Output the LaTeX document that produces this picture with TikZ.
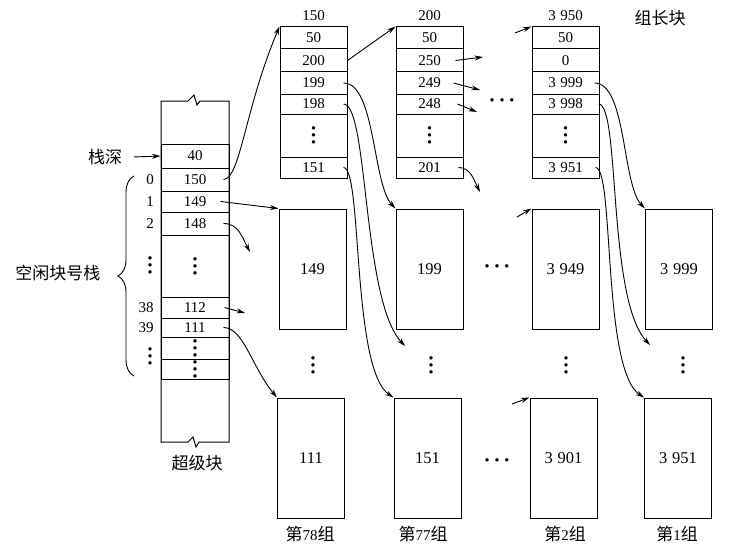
\documentclass[tikz,border=0pt]{standalone}
\usepackage{fontspec}
\setmainfont{Liberation Serif}
\newfontfamily\cjk{Noto Sans CJK SC}
\newfontfamily\dotfont{DejaVu Sans}
\usetikzlibrary{arrows.meta,decorations.pathreplacing}
\newcommand\zhtxt[1]{{\cjk\fontsize{17}{19}\selectfont #1}}
\newcommand\gsp{\hspace{0.3em}}
\newcommand\vdts{\vbox{\dotfont\fontsize{4.5}{7}\selectfont\baselineskip=7pt\lineskiplimit=-10pt\hbox{●}\hbox{●}\hbox{●}}}
\newcommand\hdts{{\dotfont\fontsize{4.5}{7}\selectfont ●\hspace{6pt}●\hspace{6pt}●}}
\tikzset{
  cell/.style={draw, line width=1pt, minimum width=67pt, inner sep=0pt},
  freeblk/.style={draw, line width=1pt, minimum width=67pt, minimum height=120pt, inner sep=0pt, font=\fontsize{16.5}{18}\selectfont},
  link/.style={line width=0.9pt, -{Stealth[length=8.5pt,width=5pt]}},
}
\begin{document}
\begin{tikzpicture}[x=1pt,y=-1pt,font=\fontsize{15}{17}\selectfont]
\useasboundingbox (0,0) rectangle (736,551);
% superblock
\draw[line width=1pt] (161,442) -- (161,101) -- (188,101) -- (194,95) -- (197,105) -- (200,101)
  -- (229,101) -- (229,442) -- (199,442) -- (196,447) -- (193,437) -- (188,442) -- cycle;
\node[cell, minimum width=68pt, minimum height=24pt] (d40) at (195,156) {40};
\node[cell, minimum width=68pt, minimum height=23pt] (s150) at (195,179.5) {150};
\node[cell, minimum width=68pt, minimum height=21pt] (s149) at (195,201.5) {149};
\node[cell, minimum width=68pt, minimum height=23pt] (s148) at (195,223.5) {148};
\node[cell, minimum width=68pt, minimum height=62pt] (sdots) at (195,266) {\vdts};
\node[cell, minimum width=68pt, minimum height=21pt] (s112) at (195,307.5) {112};
\node[cell, minimum width=68pt, minimum height=19pt] (s111) at (195,327.5) {111};
\node[cell, minimum width=68pt, minimum height=22pt] (se1) at (195,348) {\vdts};
\node[cell, minimum width=68pt, minimum height=20pt] (se2) at (195,369) {\vdts};
\node (cj) at (197,463) {\zhtxt{超级块}};
% stack depth and indices
\node (zs) at (105,157) {\zhtxt{栈深}};
\draw[link] ([xshift=8pt]zs.east) -- (d40.west);
\node (i0) at (150,179.5) {0};
\node (i1) at (150,201.5) {1};
\node (i2) at (150,223.5) {2};
\node (i3) at (150,265) {\vdts};
\node (i38) at (146,307.5) {38};
\node (i39) at (146,327.5) {39};
\node (i4) at (150,356) {\vdts};
\draw[line width=0.9pt, decorate, decoration={brace, amplitude=16pt}] (134,376) -- (134,176);
\node (kx) at (58,273) {\zhtxt{空闲块号栈}};
% group leader blocks
\node (ha) at (313.5,16) {150};
\node[cell, minimum height=22pt] (a50) at (313.5,38) {50};
\node[cell, minimum height=23pt] (a200) at (313.5,60.5) {200};
\node[cell, minimum height=22pt] (a199) at (313.5,83) {199};
\node[cell, minimum height=20pt] (a198) at (313.5,104) {198};
\node[cell, minimum height=43pt] (adots) at (313.5,135.5) {\vdts};
\node[cell, minimum height=21pt] (a151) at (313.5,167.5) {151};
\node (hb) at (429.5,16) {200};
\node[cell, minimum height=22pt] (b50) at (429.5,38) {50};
\node[cell, minimum height=23pt] (b250) at (429.5,60.5) {250};
\node[cell, minimum height=22pt] (b249) at (429.5,83) {249};
\node[cell, minimum height=20pt] (b248) at (429.5,104) {248};
\node[cell, minimum height=43pt] (bdots) at (429.5,135.5) {\vdts};
\node[cell, minimum height=21pt] (b201) at (429.5,167.5) {201};
\node (hc) at (565.5,16) {3\gsp950};
\node[cell, minimum height=22pt] (c50) at (565.5,38) {50};
\node[cell, minimum height=23pt] (c0) at (565.5,60.5) {0};
\node[cell, minimum height=22pt] (c3999) at (565.5,83) {3\gsp999};
\node[cell, minimum height=20pt] (c3998) at (565.5,104) {3\gsp998};
\node[cell, minimum height=43pt] (cdots) at (565.5,135.5) {\vdts};
\node[cell, minimum height=21pt] (c3951) at (565.5,167.5) {3\gsp951};
\node (zc) at (660,18) {\zhtxt{组长块}};
\node (dt) at (502,100) {\hdts};
% free blocks
\node[freeblk] (m149) at (312.5,269) {149};
\node[freeblk] (m199) at (429.5,269) {199};
\node[freeblk] (m3949) at (565.5,269) {3\gsp949};
\node[freeblk] (m3999) at (679,269) {3\gsp999};
\node (dm) at (497,266) {\hdts};
\node (v1) at (313,365) {\vdts};
\node (v2) at (431,365) {\vdts};
\node (v3) at (566,365) {\vdts};
\node (v4) at (683,365) {\vdts};
\node[freeblk] (l111) at (311,458) {111};
\node[freeblk] (l151) at (427.5,458) {151};
\node[freeblk] (l3901) at (563.5,458) {3\gsp901};
\node[freeblk] (l3951) at (678,458) {3\gsp951};
\node (dl) at (497,460) {\hdts};
\node (g78) at (310,534) {\zhtxt{第}78\zhtxt{组}};
\node (g77) at (423,534) {\zhtxt{第}77\zhtxt{组}};
\node (g2) at (565,534) {\zhtxt{第}2\zhtxt{组}};
\node (g1) at (677,534) {\zhtxt{第}1\zhtxt{组}};
% free ends
\coordinate (t148) at (250,252);
\coordinate (t112) at (245,313);
\coordinate (t250) at (483,57);
\coordinate (t249) at (480,90);
\coordinate (t248) at (477,112);
\coordinate (t201) at (480,192);
\coordinate (t198) at (405,346);
\coordinate (t3998) at (650,345);
\coordinate (f3950) at (515,33);
\coordinate (f3949) at (517,217);
\coordinate (f3901) at (512,404);
% links from the superblock
\draw[link] ([xshift=-6pt]s150.east) .. controls +(17,-1) and +(-35,83) .. (a50.north west);
\draw[link] ([xshift=-9pt]s149.east) -- (m149.north west);
\draw[link] ([xshift=-6pt]s148.east) .. controls +(15,0) and +(-8,-15) .. (t148);
\draw[link] ([xshift=-5pt]s112.east) -- (t112);
\draw[link] ([xshift=-6pt]s111.east) .. controls +(20,0) and +(-25,-30) .. (l111.north west);
% links from the group 150
\draw[link] (a200.east) -- (b50.north west);
\draw[link] ([xshift=-4pt]a199.east) .. controls +(32,0) and +(-23,-24) .. (m199.north west);
\draw[link] ([xshift=-4pt]a198.east) .. controls +(25,0) and +(-43,-46) .. (t198);
\draw[link] ([xshift=-4pt]a151.east) .. controls +(19,0) and +(-42,-28) .. (l151.north west);
% links from the group 200
\draw[link] ([xshift=-8pt]b250.east) -- (t250);
\draw[link] ([xshift=-10pt]b249.east) -- (t249);
\draw[link] ([xshift=-6pt]b248.east) -- (t248);
\draw[link] ([xshift=-5pt]b201.east) .. controls +(12,0) and +(-6,-12) .. (t201);
% links into the group 3 950
\draw[link] (f3950) -- (c50.north west);
\draw[link] (f3949) -- (m3949.north west);
\draw[link] (f3901) -- (l3901.north west);
\draw[link] ([xshift=-5pt]c3999.east) .. controls +(32,0) and +(-23,-24) .. (m3999.north west);
\draw[link] ([xshift=-1pt]c3998.east) .. controls +(22,0) and +(-43,-46) .. (t3998);
\draw[link] ([xshift=-4pt]c3951.east) .. controls +(19,0) and +(-42,-28) .. (l3951.north west);
\end{tikzpicture}
\end{document}
